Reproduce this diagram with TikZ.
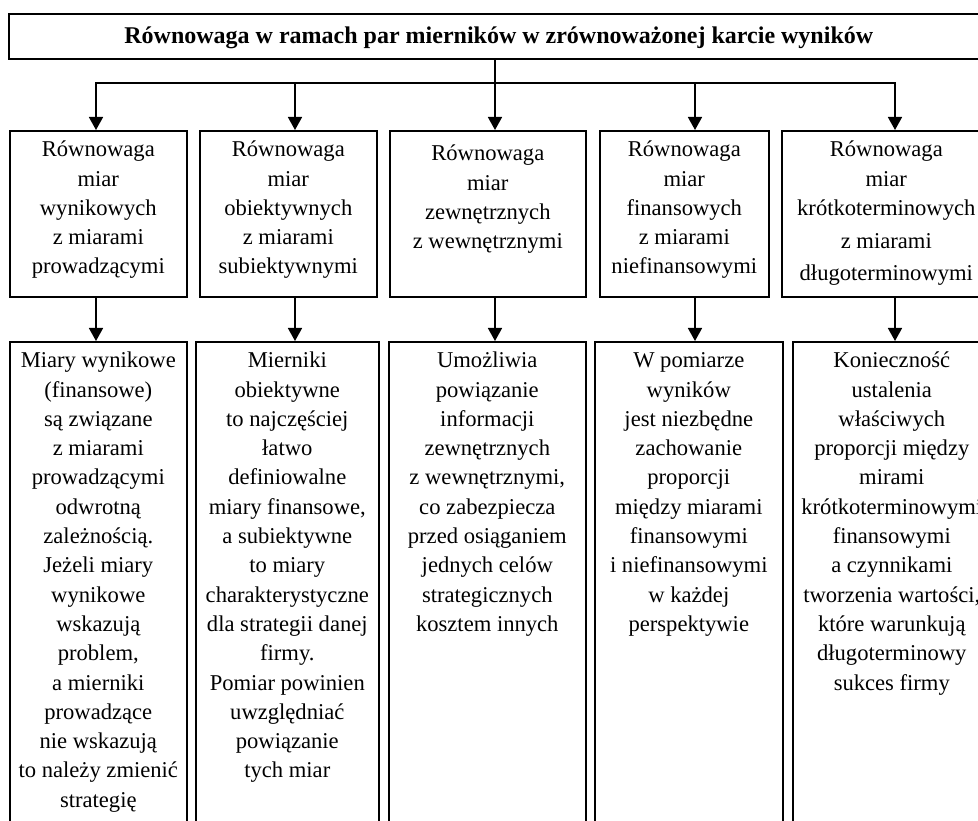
\documentclass[tikz,border=0pt]{standalone}
\usepackage{fontspec}
\setmainfont{Liberation Serif}
\usetikzlibrary{arrows.meta,positioning}

\tikzset{
  box/.style={draw, line width=1.6pt, inner sep=0pt, anchor=north west},
  txt/.style={align=center, inner sep=0pt, anchor=north,
              font=\fontsize{22.6}{29.3}\selectfont},
  ttl/.style={inner sep=0pt, font=\bfseries\fontsize{24}{28}\selectfont},
  line/.style={line width=1.6pt},
  arr/.style={line width=1.6pt, -{Triangle[width=14pt,length=13pt]}}
}

\begin{document}
\begin{tikzpicture}[x=1pt,y=-1pt]
\useasboundingbox (0,0) rectangle (978,821);
\clip (0,0) rectangle (978,821);
% title
\node[box, minimum width=980pt, minimum height=45pt] (title) at (8,13) {};
\node[ttl, anchor=base] at ([yshift=-7.5pt]title.center)
  {Równowaga w ramach par mierników w zrównoważonej karcie wyników};

% columns of the arrows
\coordinate (c1) at (96,83);
\coordinate (c2) at (295,83);
\coordinate (c3) at (495,83);
\coordinate (c4) at (695,83);
\coordinate (c5) at (895,83);

% pairs
\node[box, minimum width=177pt, minimum height=166pt] (p1) at (9,130) {};
\node[box, minimum width=177pt, minimum height=166pt] (p2) at (199,130) {};
\node[box, minimum width=196pt, minimum height=166pt] (p3) at (389,130) {};
\node[box, minimum width=169pt, minimum height=166pt] (p4) at (599,130) {};
\node[box, minimum width=209pt, minimum height=166pt] (p5) at (781,130) {};

\node[txt, below=6pt of p1.north] (tp1)
  {\strut Równowaga\\miar\\wynikowych\\z miarami\\prowadzącymi};
\node[txt, below=6pt of p2.north] (tp2)
  {\strut Równowaga\\miar\\obiektywnych\\z miarami\\subiektywnymi};
\node[txt, below=10pt of p3.north] (tp3)
  {\strut Równowaga\\miar\\zewnętrznych\\z wewnętrznymi};
\node[txt, below=6pt of p4.north] (tp4)
  {\strut Równowaga\\miar\\finansowych\\z miarami\\niefinansowymi};
\node[txt, below=6pt of p5.north] (tp5)
  {\strut Równowaga\\miar\\krótkoterminowych\\[3.5pt]z miarami\\[3pt]długoterminowymi};

% descriptions
\node[box, minimum width=177pt, minimum height=500pt] (d1) at (9,341) {};
\node[box, minimum width=183pt, minimum height=500pt] (d2) at (195,341) {};
\node[box, minimum width=197pt, minimum height=500pt] (d3) at (388,341) {};
\node[box, minimum width=188pt, minimum height=500pt] (d4) at (594,341) {};
\node[box, minimum width=198pt, minimum height=500pt] (d5) at (792,341) {};

\node[txt, below=6pt of d1.north] (td1)
  {\strut Miary wynikowe\\(finansowe)\\są związane\\z miarami\\prowadzącymi\\
   odwrotną\\zależnością.\\Jeżeli miary\\wynikowe\\wskazują\\problem,\\
   a mierniki\\prowadzące\\nie wskazują\\to należy zmienić\\strategię};
\node[txt, below=6pt of d2.north] (td2)
  {\strut Mierniki\\obiektywne\\to najczęściej\\łatwo\\definiowalne\\
   miary finansowe,\\a subiektywne\\to miary\\charakterystyczne\\
   dla strategii danej\\firmy.\\Pomiar powinien\\uwzględniać\\powiązanie\\tych miar};
\node[txt, below=6pt of d3.north] (td3)
  {\strut Umożliwia\\powiązanie\\informacji\\zewnętrznych\\z wewnętrznymi,\\
   co zabezpiecza\\przed osiąganiem\\jednych celów\\strategicznych\\kosztem innych};
\node[txt, below=6pt of d4.north] (td4)
  {\strut W pomiarze\\wyników\\jest niezbędne\\zachowanie\\proporcji\\
   między miarami\\finansowymi\\i niefinansowymi\\w każdej\\perspektywie};
\node[txt, below=6pt of d5.north] (td5)
  {\strut Konieczność\\ustalenia\\właściwych\\proporcji między\\mirami\\
   krótkoterminowymi\\finansowymi\\a czynnikami\\tworzenia wartości,\\
   które warunkują\\długoterminowy\\sukces firmy};

% connectors
\draw[line] (title.south -| c3) -- (c3);
\draw[line, line cap=rect] (c1) -- (c5);
\foreach \i in {1,...,5}{
  \draw[arr] (c\i) -- (c\i |- p\i.north);
  \draw[arr] (c\i |- p\i.south) -- (c\i |- d\i.north);
}
\end{tikzpicture}
\end{document}
